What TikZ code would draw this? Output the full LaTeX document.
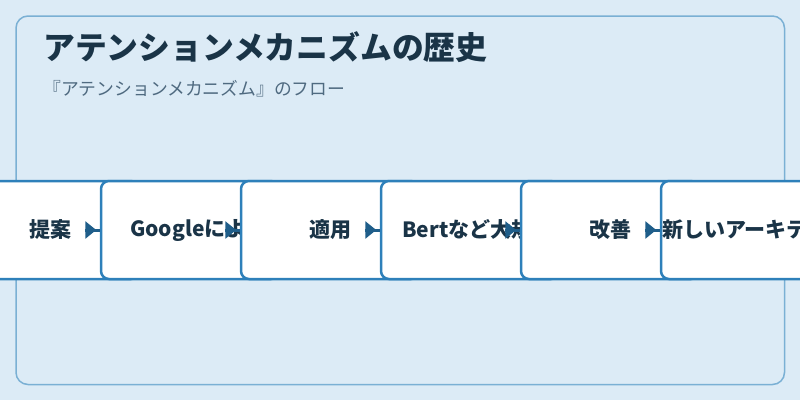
\documentclass[tikz,border=0pt]{standalone}
\usepackage{fontspec}
\setmainfont{Noto Sans CJK JP}
\usetikzlibrary{arrows.meta}
\definecolor{bgblue}{HTML}{DCEBF6}
\definecolor{panelline}{HTML}{7AB0D4}
\definecolor{boxline}{HTML}{2E80BA}
\definecolor{arrowblue}{HTML}{1F5E8A}
\definecolor{inkdark}{HTML}{1A3447}
\definecolor{inkgray}{HTML}{4F6A80}
\tikzset{
  stepbox/.style={draw=boxline, line width=2.5pt, fill=white, rounded corners=8pt,
    minimum width=178pt, minimum height=98pt, inner sep=0pt},
  steptext/.style={text=inkdark, font=\fontsize{21}{24}\selectfont\bfseries, inner sep=0pt},
  flowarrow/.style={draw=arrowblue, line width=3pt,
    -{Triangle[length=11pt,width=17pt]Rectangle[length=3.5pt,width=3pt]}},
}
\begin{document}
\begin{tikzpicture}[x=1pt,y=-1pt]
  \useasboundingbox (0,0) rectangle (800,400);
  \fill[bgblue] (0,0) rectangle (800,400);
  \draw[panelline, line width=1.5pt, rounded corners=12pt] (16,16) rectangle (784.5,384.5);
  \node[anchor=west, inner sep=0pt, text=inkdark, font=\fontsize{31.8}{36}\selectfont\bfseries]
    (title) at (43,47.5) {アテンションメカニズムの歴史};
  \node[anchor=west, inner sep=0pt, text=inkgray, font=\fontsize{17.8}{22}\selectfont]
    (subtitle) at (43,89) {『アテンションメカニズム』のフロー};
  % steps, each one laid over the one before
  \node[stepbox] (b1) at (50,230) {};
  \node[steptext] (t1) at (b1) {提案};
  \node[stepbox] (b2) at (190,230) {};
  \node[steptext, anchor=west] (t2) at (130,230) {Googleによる};
  \node[stepbox] (b3) at (330,230) {};
  \node[steptext] (t3) at (b3) {適用};
  \node[stepbox] (b4) at (470,230) {};
  \node[steptext, anchor=west] (t4) at (402,230) {Bertなど大規模};
  \node[stepbox] (b5) at (610,230) {};
  \node[steptext] (t5) at (b5) {改善};
  \node[stepbox] (b6) at (750,230) {};
  \node[steptext, anchor=west] (t6) at (662,230) {新しいアーキテクチャ};
  % arrows
  \draw[flowarrow] ([xshift=-15pt]b2.west) -- (b2.west);
  \draw[flowarrow] ([xshift=-15pt]b3.west) -- (b3.west);
  \draw[flowarrow] ([xshift=-15pt]b4.west) -- (b4.west);
  \draw[flowarrow] ([xshift=-15pt]b5.west) -- (b5.west);
  \draw[flowarrow] ([xshift=-15pt]b6.west) -- (b6.west);
\end{tikzpicture}
\end{document}
